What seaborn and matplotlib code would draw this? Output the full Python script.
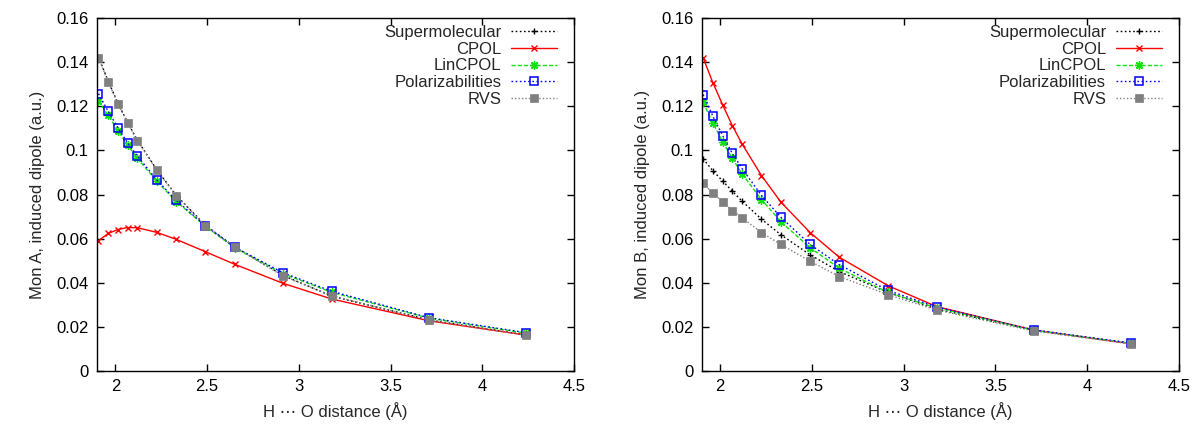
import numpy as np
import pandas as pd
import matplotlib
matplotlib.use("Agg")
import matplotlib.pyplot as plt
from matplotlib.ticker import FuncFormatter, MultipleLocator
import seaborn as sns

# ---- data ----
distance = [1.908, 1.961, 2.014, 2.067, 2.120, 2.226, 2.332, 2.491, 2.650, 2.915, 3.180, 3.710, 4.240]

monA_super = [0.1425, 0.1315, 0.1215, 0.1127, 0.1047, 0.0912, 0.0796, 0.0660, 0.0562, 0.0432, 0.0338, 0.0230, 0.0162]
monA_cpol = [0.0590, 0.0623, 0.0641, 0.0650, 0.0649, 0.0628, 0.0596, 0.0540, 0.0483, 0.0396, 0.0325, 0.0226, 0.0161]
monA_lin = [0.1225, 0.1160, 0.1090, 0.1025, 0.0965, 0.0860, 0.0768, 0.0655, 0.0558, 0.0440, 0.0355, 0.0238, 0.0170]
monA_pol = [0.1258, 0.1178, 0.1103, 0.1034, 0.0975, 0.0866, 0.0773, 0.0658, 0.0561, 0.0444, 0.0360, 0.0240, 0.0172]
monA_rvs = [0.1421, 0.1312, 0.1212, 0.1124, 0.1044, 0.0910, 0.0794, 0.0658, 0.0561, 0.0429, 0.0340, 0.0229, 0.0160]

monB_super = [0.0962, 0.0908, 0.0862, 0.0815, 0.0770, 0.0688, 0.0617, 0.0526, 0.0450, 0.0355, 0.0280, 0.0183, 0.0124]
monB_cpol = [0.1421, 0.1308, 0.1208, 0.1113, 0.1030, 0.0886, 0.0765, 0.0627, 0.0515, 0.0386, 0.0291, 0.0184, 0.0122]
monB_lin = [0.1218, 0.1125, 0.1040, 0.0964, 0.0894, 0.0777, 0.0676, 0.0558, 0.0465, 0.0355, 0.0285, 0.0183, 0.0124]
monB_pol = [0.1254, 0.1156, 0.1068, 0.0987, 0.0918, 0.0796, 0.0696, 0.0573, 0.0481, 0.0364, 0.0289, 0.0185, 0.0125]
monB_rvs = [0.0851, 0.0806, 0.0768, 0.0727, 0.0695, 0.0627, 0.0573, 0.0497, 0.0427, 0.0345, 0.0275, 0.0180, 0.0121]

series_names = ["Supermolecular", "CPOL", "LinCPOL", "Polarizabilities", "RVS"]
panel_labels = ["Mon A, induced dipole (a.u.)", "Mon B, induced dipole (a.u.)"]
panel_data = [
    [monA_super, monA_cpol, monA_lin, monA_pol, monA_rvs],
    [monB_super, monB_cpol, monB_lin, monB_pol, monB_rvs],
]

# ---- styles ----
styles = {
    "Supermolecular": dict(color="black", linestyle=(0, (1.2, 1.8)), marker="+", markersize=5,
                           markeredgewidth=1.0, markeredgecolor="black", markerfacecolor="none"),
    "CPOL": dict(color="#ff0000", linestyle="-", marker="x", markersize=5,
                 markeredgewidth=1.0, markeredgecolor="#ff0000"),
    "LinCPOL": dict(color="#11e011", linestyle=(0, (3, 1.5)), marker=(8, 2, 0), markersize=6,
                    markeredgewidth=1.0, markeredgecolor="#11e011"),
    "Polarizabilities": dict(color="#0000ff", linestyle=(0, (1.2, 1.8)), marker="s", markersize=5.5,
                             markeredgewidth=1.1, markeredgecolor="#0000ff", markerfacecolor="none"),
    "RVS": dict(color="#808080", linestyle=(0, (1.0, 1.5)), marker="s", markersize=5.5,
                markeredgewidth=0.5, markeredgecolor="#808080", markerfacecolor="#808080"),
}

sns.set_theme(style="ticks")
plt.rcParams["font.family"] = ["Liberation Sans", "DejaVu Sans"]
plt.rcParams["font.size"] = 12

fig = plt.figure(figsize=(11.99, 4.25), dpi=100)
positions = [[0.0809, 0.128, 0.398, 0.8287], [0.5852, 0.128, 0.398, 0.8287]]

fmt = FuncFormatter(lambda v, p: "%g" % round(v, 6))

for pos, ylabel, vals in zip(positions, panel_labels, panel_data):
    ax = fig.add_axes(pos)
    for name, yv in zip(series_names, vals):
        df = pd.DataFrame({"x": distance, "y": yv})
        sns.lineplot(data=df, x="x", y="y", ax=ax, label=name, linewidth=1.0,
                     sort=False, color=styles[name]["color"])
        line = ax.lines[-1]
        line.set(**styles[name])
        line.set_linewidth(1.0)
    ax.set_xlim(1.9, 4.5)
    ax.set_ylim(0, 0.16)
    ax.xaxis.set_major_locator(MultipleLocator(0.5))
    ax.yaxis.set_major_locator(MultipleLocator(0.02))
    ax.xaxis.set_major_formatter(fmt)
    ax.yaxis.set_major_formatter(fmt)
    ax.tick_params(direction="in", top=True, right=True, length=5, width=1,
                   labelsize=12, colors="black", pad=6)
    for sp in ax.spines.values():
        sp.set_visible(True)
        sp.set_color("black")
        sp.set_linewidth(1.0)
    ax.set_xlabel("H \u22ef O distance (\u00c5)", fontsize=12, labelpad=6)
    ax.set_ylabel(ylabel, fontsize=12, labelpad=8)
    ax.grid(False)
    handles = ax.lines[:len(series_names)]
    leg = ax.legend(handles, series_names, loc="upper right", frameon=False, markerfirst=False,
                    fontsize=12, handlelength=2.75, handletextpad=0.6,
                    labelspacing=0.1, borderaxespad=0.3,
                    bbox_to_anchor=(0.989, 1.014))

fig.savefig("out.png", dpi=100)
